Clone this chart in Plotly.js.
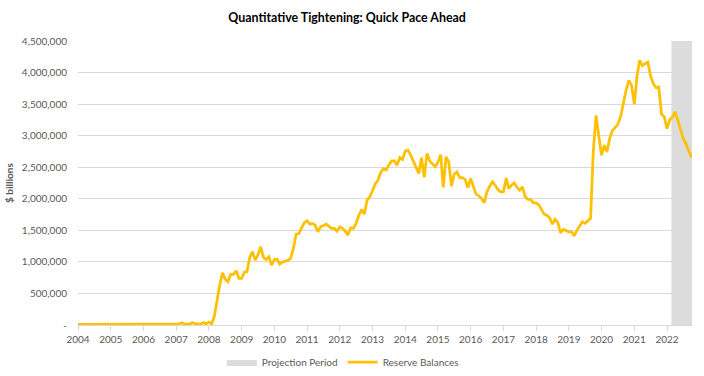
<!DOCTYPE html>
<html>
<head>
<meta charset="utf-8">
<script src="https://cdn.plot.ly/plotly-3.0.1.min.js"></script>
<style>
html,body{margin:0;padding:0;background:#fff;}
#chart{width:704px;height:376px;}
</style>
</head>
<body>
<div id="chart"></div>
<script>
// Monthly reserve balances ($ millions, shown as "$ billions" axis title), Jan 2004 onward
const firstMonth = [2004, 1];
const reserveBalances = [
  // 2004
  11000, 11500, 12000, 12500, 11000, 12000, 13000, 12500, 12000, 13500, 14000, 15500,
  // 2005
  14000, 13000, 12500, 12000, 12000, 12500, 11500, 12000, 12500, 13000, 13500, 15000,
  // 2006
  13000, 12500, 12000, 11500, 11500, 12000, 11000, 11000, 11500, 12000, 12500, 14000,
  // 2007
  13000, 14000, 35000, 18000, 15000, 16000, 38000, 17000, 16000, 15000, 40000, 20000,
  // 2008
  45000, 15000, 131000, 422000, 633000, 828000, 726000, 685000, 802000, 802000, 859000, 738000,
  // 2009
  738000, 838000, 843000, 1071000, 1160000, 1028000, 1108000, 1239000, 1071000, 1039000, 1081000, 949000,
  // 2010
  1039000, 1044000, 965000, 997000, 1012000, 1023000, 1055000, 1213000, 1440000, 1450000, 1540000, 1620000,
  // 2011
  1650000, 1598000, 1609000, 1582000, 1477000, 1556000, 1571000, 1598000, 1566000, 1530000, 1530000, 1487000,
  // 2012
  1556000, 1530000, 1487000, 1424000, 1540000, 1530000, 1609000, 1740000, 1830000, 1756000, 1978000, 2031000,
  // 2013
  2126000, 2242000, 2289000, 2410000, 2479000, 2453000, 2532000, 2600000, 2600000, 2532000, 2653000, 2621000,
  // 2014
  2758000, 2769000, 2700000, 2600000, 2480000, 2400000, 2650000, 2340000, 2720000, 2600000, 2550000, 2510000,
  // 2015
  2580000, 2700000, 2179000, 2663000, 2584000, 2200000, 2389000, 2426000, 2337000, 2337000, 2305000, 2179000,
  // 2016
  2321000, 2179000, 2073000, 2047000, 2005000, 1935000, 2110000, 2200000, 2268000, 2215000, 2147000, 2110000,
  // 2017
  2110000, 2330000, 2163000, 2215000, 2252000, 2179000, 2136000, 2189000, 2031000, 1989000, 1989000, 1935000,
  // 2018
  1935000, 1900000, 1835000, 1756000, 1740000, 1700000, 1598000, 1677000, 1619000, 1461000, 1514000, 1500000,
  // 2019
  1477000, 1477000, 1413000, 1500000, 1566000, 1635000, 1610000, 1650000, 1690000, 2750000, 3320000, 3000000,
  // 2020
  2690000, 2850000, 2742000, 2954000, 3080000, 3128000, 3180000, 3300000, 3540000, 3718000, 3877000, 3800000,
  // 2021
  3500000, 3950000, 4193000, 4110000, 4140000, 4166000, 3950000, 3824000, 3760000, 3771000, 3339000, 3300000,
  // 2022
  3112000, 3255000, 3290000, 3375000, 3250000, 3112000, 2954000, 2870000, 2770000, 2653000
];
const projectionPeriod = ['2022-02-19', '2022-10-07'];
const xRange = ['2004-01-01', '2022-10-07'];
const yTickVals = [0, 500000, 1000000, 1500000, 2000000, 2500000, 3000000, 3500000, 4000000, 4500000];
const yTickText = ['-', '500,000', '1,000,000', '1,500,000', '2,000,000', '2,500,000', '3,000,000', '3,500,000', '4,000,000', '4,500,000'];
const yMax = 4500000;

const months = reserveBalances.map(function (_, i) {
  const total = (firstMonth[0] * 12 + firstMonth[1] - 1) + i;
  const y = Math.floor(total / 12), m = total % 12 + 1;
  return y + '-' + String(m).padStart(2, '0') + '-01';
});

const FONT = 'Lato, "Liberation Sans", sans-serif';
const GREY = '#595959';

const traces = [
  {
    type: 'scatter', mode: 'lines', name: 'Projection Period',
    x: [projectionPeriod[0], projectionPeriod[0], projectionPeriod[1], projectionPeriod[1]],
    y: [0, yMax, yMax, 0],
    fill: 'toself', fillcolor: '#dcdcdc', line: {width: 0, color: '#dcdcdc'},
    hoverinfo: 'skip'
  },
  {
    type: 'scatter', mode: 'lines', name: 'Reserve Balances',
    x: months, y: reserveBalances,
    line: {color: '#ffc000', width: 2.75}
  }
];

const layout = {
  width: 704, height: 376,
  margin: {l: 78, r: 12, t: 41, b: 51},
  paper_bgcolor: '#fff', plot_bgcolor: '#fff',
  font: {family: FONT, size: 10, color: GREY},
  title: {
    text: 'Quantitative Tightening: Quick Pace Ahead',
    font: {family: FONT, size: 12.4, color: '#000', weight: 'bold'},
    xref: 'container', yref: 'container', x: 0.493, y: 0.952, xanchor: 'center', yanchor: 'middle'
  },
  xaxis: {
    type: 'date', range: xRange,
    tick0: '2004-01-01', dtick: 'M12', tickformat: '%Y',
    ticks: 'outside', ticklen: 5, tickcolor: '#d9d9d9',
    showline: true, linecolor: '#d9d9d9', linewidth: 1,
    showgrid: false, zeroline: false,
    tickfont: {family: FONT, size: 10, color: GREY}
  },
  yaxis: {
    range: [0, yMax], tickvals: yTickVals, ticktext: yTickText,
    showgrid: true, gridcolor: '#d9d9d9', gridwidth: 1,
    zeroline: false, showline: false, ticks: '',
    ticklabelstandoff: 10,
    tickfont: {family: FONT, size: 10, color: GREY},
    title: {text: '$ billions', font: {family: FONT, size: 10, color: GREY, weight: 'bold'}, standoff: 6}
  },
  showlegend: true,
  legend: {
    orientation: 'h', xref: 'container', yref: 'container',
    x: 0.487, y: 0.037, xanchor: 'center', yanchor: 'middle',
    font: {family: FONT, size: 10, color: GREY},
    itemwidth: 30,
    bgcolor: 'rgba(0,0,0,0)'
  }
};

Plotly.newPlot('chart', traces, layout, {displayModeBar: false, staticPlot: true});
</script>
</body>
</html>
